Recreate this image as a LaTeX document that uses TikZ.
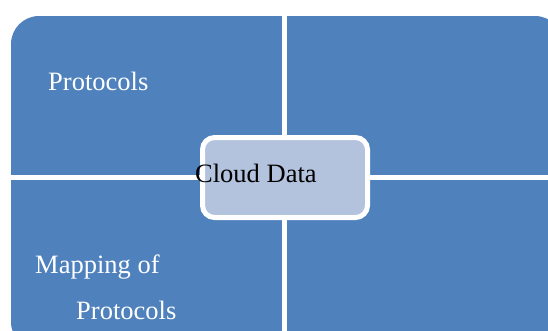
\documentclass[tikz,border=0pt]{standalone}
\usepackage{fontspec}
\setmainfont{Liberation Serif}
\definecolor{qblue}{HTML}{4F81BD}
\definecolor{cblue}{HTML}{B3C2DD}
\begin{document}
\begin{tikzpicture}[x=1pt,y=-1pt,
  lbl/.style={anchor=base west, inner sep=0, font=\fontsize{26.5}{30}\selectfont},
  divider/.style={draw=white, line width=5pt},
  centerbox/.style={draw=white, line width=5pt, fill=cblue, rounded corners=12pt, minimum width=165pt, minimum height=80pt, inner sep=0}]
\useasboundingbox (0,0) rectangle (548,330);
\begin{scope}
\clip (0,0) rectangle (548,330);
\fill[qblue, rounded corners=28pt] (11,16) rectangle (563,350);
\draw[divider] (284.5,16) -- (284.5,340);
\draw[divider] (11,177.5) -- (560,177.5);
\end{scope}
\node[centerbox] (cd) at (285,177.5) {};
\node[lbl, text=white] (p1) at (48,90) {Protocols};
\node[lbl, text=black] (cdt) at (195,182) {Cloud Data};
\node[lbl, text=white] (m1) at (35,273) {Mapping of};
\node[lbl, text=white] (p2) at (76,319) {Protocols};
\end{tikzpicture}
\end{document}
